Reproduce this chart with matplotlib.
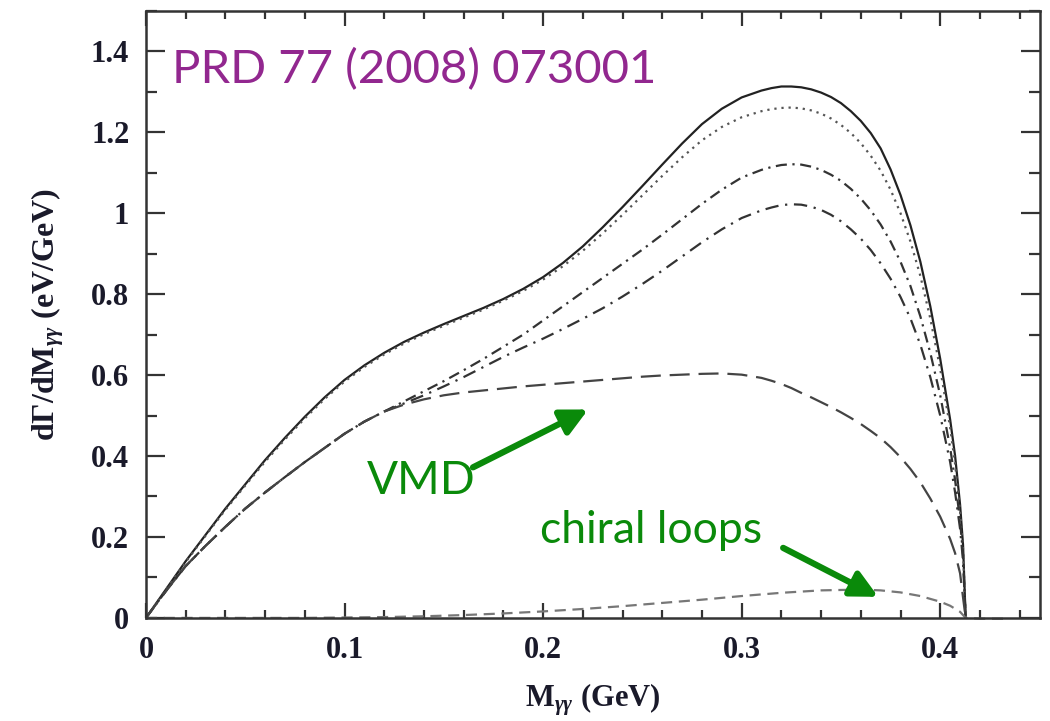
import numpy as np
import matplotlib
matplotlib.use("Agg")
import matplotlib.pyplot as plt
from matplotlib.ticker import MultipleLocator

# Shared mass grid (GeV) for the five upper curves
m_main = [0, 0.01, 0.02, 0.03, 0.04, 0.05, 0.06, 0.07, 0.08, 0.09, 0.10,
          0.11, 0.12, 0.13, 0.14, 0.15, 0.16, 0.17, 0.18, 0.19, 0.20,
          0.21, 0.22, 0.23, 0.24, 0.25, 0.26, 0.27, 0.28, 0.29, 0.30,
          0.31, 0.315, 0.32, 0.325, 0.33, 0.335, 0.34, 0.345, 0.35, 0.355,
          0.36, 0.365, 0.37, 0.375, 0.38, 0.385, 0.39, 0.395, 0.40, 0.405,
          0.4075, 0.41, 0.4115, 0.4128]

# full result (solid)
total = [0, 0.07, 0.14, 0.205, 0.27, 0.33, 0.39, 0.445, 0.497, 0.545, 0.588,
         0.624, 0.655, 0.682, 0.705, 0.726, 0.746, 0.766, 0.788, 0.813, 0.842,
         0.877, 0.918, 0.965, 1.015, 1.067, 1.12, 1.172, 1.22, 1.258, 1.286,
         1.303, 1.309, 1.313, 1.313, 1.311, 1.306, 1.298, 1.287, 1.272, 1.252,
         1.228, 1.198, 1.16, 1.108, 1.045, 0.97, 0.88, 0.77, 0.64, 0.49,
         0.40, 0.28, 0.18, 0]

# dotted
dotted = [0, 0.069, 0.138, 0.203, 0.267, 0.327, 0.386, 0.441, 0.493, 0.541, 0.584,
          0.62, 0.651, 0.678, 0.701, 0.722, 0.742, 0.762, 0.784, 0.808, 0.836,
          0.869, 0.907, 0.95, 0.996, 1.044, 1.092, 1.138, 1.18, 1.213, 1.237,
          1.252, 1.257, 1.26, 1.261, 1.259, 1.254, 1.246, 1.234, 1.218, 1.198,
          1.173, 1.142, 1.105, 1.058, 1.0, 0.93, 0.845, 0.74, 0.615, 0.47,
          0.38, 0.265, 0.17, 0]

# upper dash-dot
dashdot1 = [0, 0.066, 0.128, 0.178, 0.225, 0.27, 0.31, 0.348, 0.385, 0.42, 0.455,
            0.485, 0.51, 0.535, 0.56, 0.585, 0.612, 0.64, 0.67, 0.70, 0.735,
            0.77, 0.805, 0.84, 0.875, 0.91, 0.947, 0.985, 1.023, 1.058, 1.088,
            1.107, 1.114, 1.119, 1.121, 1.12, 1.115, 1.107, 1.095, 1.08, 1.06,
            1.036, 1.007, 0.972, 0.93, 0.88, 0.82, 0.745, 0.655, 0.55, 0.42,
            0.34, 0.24, 0.155, 0]

# lower dash-dot
dashdot2 = [0, 0.066, 0.128, 0.178, 0.225, 0.27, 0.31, 0.348, 0.385, 0.42, 0.455,
            0.485, 0.51, 0.53, 0.55, 0.572, 0.595, 0.62, 0.645, 0.668, 0.69,
            0.714, 0.739, 0.765, 0.794, 0.825, 0.858, 0.893, 0.928, 0.96, 0.988,
            1.007, 1.014, 1.02, 1.022, 1.021, 1.016, 1.008, 0.996, 0.98, 0.96,
            0.937, 0.909, 0.876, 0.838, 0.793, 0.74, 0.675, 0.595, 0.50, 0.385,
            0.31, 0.22, 0.14, 0]

# VMD (long dashes)
vmd = [0, 0.066, 0.128, 0.178, 0.225, 0.27, 0.31, 0.348, 0.385, 0.42, 0.455,
       0.485, 0.51, 0.527, 0.54, 0.55, 0.557, 0.562, 0.567, 0.572, 0.576,
       0.58, 0.584, 0.588, 0.592, 0.596, 0.599, 0.601, 0.603, 0.604, 0.601,
       0.593, 0.586, 0.578, 0.568, 0.556, 0.545, 0.533, 0.521, 0.508, 0.494,
       0.479, 0.462, 0.444, 0.422, 0.397, 0.368, 0.335, 0.295, 0.25, 0.195,
       0.16, 0.11, 0.05, 0]

# chiral loops (short dashes)
m_chiral = [0, 0.02, 0.04, 0.06, 0.08, 0.10, 0.12, 0.14, 0.16, 0.18, 0.20,
            0.22, 0.24, 0.26, 0.28, 0.30, 0.32, 0.34, 0.36, 0.37, 0.38,
            0.39, 0.40, 0.405, 0.41, 0.4128, 0.42, 0.435]
chiral = [0, 0, 0, 0, 0, 0.001, 0.002, 0.004, 0.007, 0.011, 0.016,
          0.022, 0.029, 0.037, 0.045, 0.054, 0.062, 0.068, 0.07, 0.068, 0.063,
          0.054, 0.04, 0.03, 0.015, 0, -0.002, -0.002]

plt.rcParams["mathtext.fontset"] = "custom"
plt.rcParams["mathtext.rm"] = "Liberation Serif:bold"
plt.rcParams["mathtext.it"] = "Liberation Serif:italic:bold"
plt.rcParams["mathtext.bf"] = "Liberation Serif:bold"

purple = "#92278f"
green = "#0a8a0a"
axcol = "#333333"

fig = plt.figure(figsize=(10.5, 7.21), dpi=100)
ax = fig.add_axes([0.139, 0.143, 0.851, 0.842])

ax.plot(m_main, total, color="#222222", lw=1.6, ls="-")
ax.plot(m_main, dotted, color="#555555", lw=1.6, ls=(0, (1, 2.2)))
ax.plot(m_main, dashdot1, color="#333333", lw=1.6, ls=(0, (5, 2.5, 1, 2.5)))
ax.plot(m_main, dashdot2, color="#333333", lw=1.6, ls=(0, (6, 3, 1, 3)))
ax.plot(m_main, vmd, color="#444444", lw=1.6, ls=(0, (9, 4)))
ax.plot(m_chiral, chiral, color="#777777", lw=1.6, ls=(0, (5, 3)), clip_on=False)

ax.set_xlim(0, 0.45)
ax.set_ylim(0, 1.5)
ax.xaxis.set_major_locator(MultipleLocator(0.1))
ax.xaxis.set_minor_locator(MultipleLocator(0.02))
ax.yaxis.set_major_locator(MultipleLocator(0.2))
ax.yaxis.set_minor_locator(MultipleLocator(0.1))
ax.xaxis.set_major_formatter(lambda v, p: "0" if abs(v) < 1e-9 else f"{v:.1f}")
ax.yaxis.set_major_formatter(
    lambda v, p: "0" if abs(v) < 1e-9 else ("1" if abs(v - 1) < 1e-9 else f"{v:.1f}"))

ax.tick_params(which="both", direction="in", top=True, right=True,
               color=axcol, width=1.6)
ax.tick_params(axis="y", which="major", length=14, pad=12)
ax.tick_params(axis="y", which="minor", length=8)
ax.tick_params(axis="x", which="major", length=11, pad=13)
ax.tick_params(axis="x", which="minor", length=6)
for lab in ax.get_xticklabels() + ax.get_yticklabels():
    lab.set_fontfamily("Liberation Serif")
    lab.set_fontweight("bold")
    lab.set_fontsize(22)
    lab.set_color("#1a1a2a")
for sp in ax.spines.values():
    sp.set_linewidth(1.8)
    sp.set_color(axcol)

ax.set_xlabel(r"M$_{\gamma\gamma}$ (GeV)", family="Liberation Serif",
              weight="bold", fontsize=22, labelpad=12, color="#1a1a2a")
ax.set_ylabel("d\u0393/dM$_{\\gamma\\gamma}$ (eV/GeV)", family="Liberation Serif",
              weight="bold", fontsize=23, labelpad=18, color="#1a1a2a")

ax.text(0.0131, 1.321, "PRD 77 (2008) 073001", color=purple, fontsize=34,
        family="Lato", va="baseline", ha="left")
ax.text(0.1113, 0.305, "VMD", color=green, fontsize=33, family="Lato",
        va="baseline", ha="left")
ax.text(0.1985, 0.186, "chiral loops", color=green, fontsize=32, family="Lato",
        va="baseline", ha="left")

arrow = dict(arrowstyle="-|>", color=green, lw=4.5, mutation_scale=40,
             shrinkA=0, shrinkB=0)
ax.annotate("", xy=(0.2227, 0.515), xytext=(0.1647, 0.372), arrowprops=arrow)
ax.annotate("", xy=(0.3688, 0.052), xytext=(0.3209, 0.173), arrowprops=arrow)

fig.savefig("out.png", dpi=100)
